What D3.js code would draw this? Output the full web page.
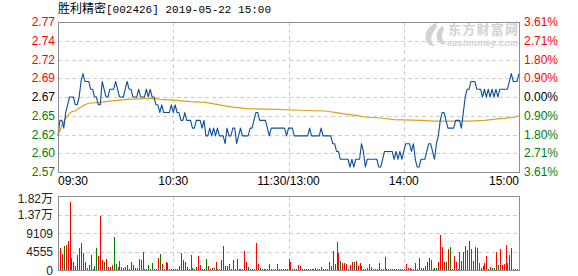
<!DOCTYPE html>
<html><head><meta charset="utf-8">
<script src="https://cdn.jsdelivr.net/npm/d3@7/dist/d3.min.js"></script>
<style>body{margin:0;background:#fff}svg{display:block}</style>
</head><body><svg id="c" width="578" height="276"></svg>
<script>
// ---------------- data ----------------
const stockName = "胜利精密";
const stockCode = "[002426]";
const dateTime = "2019-05-22 15:00";
const preClose = 2.67;
const maxPct = 0.0361;
const priceTickLabels = ["2.77","2.74","2.72","2.69","2.67","2.65","2.62","2.60","2.57"];
const pctTickLabels = ["3.61%","2.71%","1.80%","0.90%","0.00%","0.90%","1.80%","2.71%","3.61%"];
const timeLabels = ["09:30","10:30","11:30/13:00","14:00","15:00"];
const timeLabelMinutes = [0,60,120,180,240];
const volMax = 18218;
const volTickLabels = ["1.82万","1.37万","9109","4555","0"];

// minute prices (index = minute from 09:30, 241 points)
const prices = [
2.62,2.64,2.64,2.63,2.65,2.66,2.67,2.67,2.67,2.66,2.66,2.67,2.69,2.70,2.69,2.69,2.69,2.68,2.68,2.67,
2.67,2.66,2.66,2.69,2.68,2.67,2.67,2.68,2.68,2.68,2.69,2.68,2.67,2.67,2.67,2.68,2.69,2.68,2.68,2.67,
2.67,2.67,2.68,2.67,2.67,2.67,2.68,2.67,2.68,2.67,2.67,2.66,2.66,2.65,2.66,2.65,2.65,2.65,2.65,2.66,
2.65,2.66,2.65,2.65,2.64,2.64,2.65,2.64,2.64,2.64,2.63,2.63,2.64,2.64,2.64,2.63,2.64,2.62,2.62,2.63,
2.62,2.63,2.62,2.63,2.62,2.62,2.62,2.61,2.63,2.62,2.62,2.63,2.63,2.61,2.62,2.63,2.62,2.62,2.62,2.62,
2.63,2.63,2.64,2.65,2.65,2.64,2.64,2.64,2.64,2.63,2.62,2.63,2.63,2.63,2.63,2.63,2.63,2.63,2.63,2.62,
2.63,2.63,2.63,2.62,2.62,2.62,2.62,2.62,2.62,2.62,2.62,2.63,2.62,2.62,2.62,2.62,2.62,2.63,2.62,2.62,
2.62,2.62,2.62,2.61,2.61,2.60,2.60,2.59,2.59,2.59,2.59,2.59,2.58,2.59,2.58,2.59,2.59,2.59,2.61,2.60,
2.58,2.59,2.59,2.59,2.59,2.59,2.59,2.58,2.58,2.59,2.60,2.60,2.60,2.60,2.60,2.59,2.60,2.59,2.60,2.59,
2.60,2.61,2.61,2.61,2.60,2.61,2.59,2.58,2.58,2.59,2.59,2.59,2.60,2.61,2.61,2.60,2.59,2.61,2.62,2.64,
2.65,2.65,2.64,2.63,2.63,2.63,2.63,2.64,2.64,2.64,2.63,2.65,2.67,2.68,2.68,2.69,2.69,2.69,2.68,2.68,
2.68,2.67,2.68,2.67,2.68,2.67,2.68,2.67,2.68,2.67,2.68,2.68,2.68,2.68,2.68,2.69,2.70,2.69,2.69,2.69,
2.70];

// average price line, read at key minutes
const avgMinutes = [0,1,2,3,4,5,6,7,9,11,12,14,16,22,28,36,45,51,53,60,69,77,86,91,98,114,125,139,145,150,156,161,168,175,189,196,213,222,229,238,240];
const avgValues  = [2.620,2.627,2.634,2.638,2.643,2.646,2.649,2.651,2.652,2.656,2.657,2.660,2.662,2.663,2.665,2.667,2.668,2.668,2.667,2.666,2.664,2.663,2.659,2.657,2.655,2.654,2.653,2.652,2.650,2.648,2.646,2.644,2.643,2.641,2.640,2.639,2.639,2.640,2.642,2.644,2.646];

// minute volumes (shares)
const volumes = [
4800,5580,4020,6070,6240,7220,16900,2950,1970,1150,3770,5580,6730,4180,1970,660,1310,3770,330,1070,
5580,3530,13380,2540,2130,2790,820,820,1310,8290,1640,820,2300,900,660,820,1310,330,1970,1310,
500,660,2790,2540,4430,330,330,1310,330,1720,330,330,2950,3940,1560,330,1970,1720,330,330,
330,330,330,1070,4180,2540,1970,900,400,3770,660,330,900,3530,1310,330,330,2790,1150,330,
660,660,1970,330,330,2540,5990,1150,1150,1640,330,2540,330,2790,330,330,330,4760,1970,900,
330,330,400,6650,1480,500,330,330,330,300,1480,330,330,330,1480,330,330,330,330,330,
2790,1970,330,330,330,1310,1070,330,330,330,330,330,330,330,500,330,330,820,330,330,
330,1970,1070,4760,1560,6970,4180,2300,1800,1800,1560,330,1310,1970,1970,2300,1070,1800,1070,330,
330,660,1560,820,330,330,330,1800,330,330,3280,330,330,330,330,330,330,330,330,330,
330,1560,500,660,330,330,1800,330,3040,660,500,1070,1970,3040,2540,330,600,600,2050,8700,
5740,2050,2050,5250,5740,330,3530,2050,330,4510,2300,4510,5990,5000,7220,5250,2300,5740,5500,1800,
660,1070,1800,3530,330,820,600,600,4510,1310,5250,1310,1560,6240,1800,3770,5500,330,200,200,
7960];

// minutes whose volume bar is a down (green) bar
const downMinutes = [3,8,13,17,19,20,24,29,30,37,38,41,43,47,49,51,53,55,59,61,64,66,70,71,76,77,79,81,85,87,92,93,99,105,128,131,138,143,145,147,154,159,160,165,167,172,175,177,186,188,196,197,202,204,210,218,221,226,227,229,237];

// ---------------- drawing ----------------
const svg = d3.select("#c");
const L = 58, R = 519, PT = 22, PB = 172, VT = 196.3, VB = 270.3;
const RED = "#ff0000", GREEN = "#008000", DARK = "#000000";
const FONT = "'Liberation Sans', Arial, sans-serif";

const x = d3.scaleLinear().domain([0, 240]).range([L, R]);
const yP = d3.scaleLinear().domain([preClose*(1-maxPct), preClose*(1+maxPct)]).range([PB, PT]);
const yV = d3.scaleLinear().domain([0, volMax]).range([VB, VT]);

const nP = priceTickLabels.length - 1;
const priceTickVals = priceTickLabels.map((d,i) => preClose*(1 + maxPct*(nP/2 - i)/(nP/2)));
const volTickVals = volTickLabels.map((d,i) => volMax*(volTickLabels.length-1-i)/(volTickLabels.length-1));

// grid
const grid = svg.append("g").attr("stroke", "#cfcfcf").attr("stroke-dasharray", "4,3").attr("shape-rendering","crispEdges");
priceTickVals.slice(1, -1).forEach(v => {
  const yy = Math.round(yP(v)) + 0.5;
  grid.append("line").attr("x1", L).attr("x2", R).attr("y1", yy).attr("y2", yy);
});
volTickVals.slice(1, -1).forEach(v => {
  const yy = Math.round(yV(v)) + 0.5;
  grid.append("line").attr("x1", L).attr("x2", R).attr("y1", yy).attr("y2", yy);
});
timeLabelMinutes.slice(1, -1).forEach(m => {
  const xx = Math.round(x(m)) + 0.5;
  grid.append("line").attr("x1", xx).attr("x2", xx).attr("y1", PT).attr("y2", PB);
  grid.append("line").attr("x1", xx).attr("x2", xx).attr("y1", VT).attr("y2", VB);
});

// watermark
const wm = svg.append("g").attr("fill", "#d2d2d2");
wm.append("path").attr("d", "M436,23 C428,26 424,33 426,40 C427,44 431,46 435,46 C431,43 430,38 433,33 C435,29 439,26 436,23 Z");
wm.append("path").attr("d", "M442,26 C437,30 435,36 438,41 C440,44 443,45 446,44 C442,41 441,36 443,32 C444,30 445,28 442,26 Z");
wm.append("text").attr("x", 448).attr("y", 34).attr("font-family", "'Noto Sans CJK SC', sans-serif").attr("font-weight","bold").attr("font-size", 13).attr("textLength", 70).text("东方财富网");
wm.append("text").attr("x", 447).attr("y", 46).attr("font-family", FONT).attr("font-weight","bold").attr("font-style","italic").attr("font-size", 9).attr("textLength", 71).text("eastmoney.com");

// volume bars
const downSet = new Set(downMinutes);
svg.append("g").attr("shape-rendering","crispEdges").selectAll("rect").data(volumes).join("rect")
  .attr("x", (d,i) => Math.round(x(i)))
  .attr("width", 1)
  .attr("y", d => yV(d))
  .attr("height", d => VB - yV(d))
  .attr("fill", (d,i) => downSet.has(i) ? GREEN : RED);

// average line
svg.append("path").datum(avgMinutes.map((m,i) => [m, avgValues[i]]))
  .attr("fill", "none").attr("stroke", "#dca21c").attr("stroke-width", 1.2)
  .attr("d", d3.line().x(d => x(d[0])).y(d => yP(d[1])));

// price line
svg.append("path").datum(prices)
  .attr("fill", "none").attr("stroke", "#0b4f9e").attr("stroke-width", 1.1).attr("stroke-linejoin","round")
  .attr("d", d3.line().x((d,i) => x(i)).y(d => yP(d)));

// frames
svg.append("rect").attr("x", L + 0.5).attr("y", PT + 0.5).attr("width", R - L).attr("height", PB - PT)
  .attr("fill", "none").attr("stroke", "#8e8e8e").attr("shape-rendering","crispEdges");
svg.append("rect").attr("x", L + 0.5).attr("y", Math.round(VT) + 0.5).attr("width", R - L).attr("height", Math.round(VB) - Math.round(VT))
  .attr("fill", "none").attr("stroke", "#8e8e8e").attr("shape-rendering","crispEdges");

// price labels
const colorFor = i => i < nP/2 ? RED : (i > nP/2 ? GREEN : DARK);
svg.append("g").selectAll("text").data(priceTickLabels).join("text")
  .attr("x", 55).attr("y", (d,i) => yP(priceTickVals[i])).attr("dy", "0.35em")
  .attr("text-anchor", "end").attr("font-family", FONT).attr("font-size", 12)
  .attr("fill", (d,i) => colorFor(i)).text(d => d);
svg.append("g").selectAll("text").data(pctTickLabels).join("text")
  .attr("x", 524).attr("y", (d,i) => yP(priceTickVals[i])).attr("dy", "0.35em")
  .attr("text-anchor", "start").attr("font-family", FONT).attr("font-size", 12)
  .attr("fill", (d,i) => colorFor(i)).text(d => d);

// volume labels
svg.append("g").selectAll("text").data(volTickLabels).join("text")
  .attr("x", 53).attr("y", (d,i) => yV(volTickVals[i]) + (i === 0 ? 2 : 0)).attr("dy", "0.35em")
  .attr("text-anchor", "end").attr("font-family", "'Liberation Sans','Noto Sans CJK SC',sans-serif").attr("font-size", 12)
  .attr("fill", "#222").text(d => d);

// time labels
svg.append("g").selectAll("text").data(timeLabels).join("text")
  .attr("x", (d,i) => x(timeLabelMinutes[i]))
  .attr("y", 185)
  .attr("text-anchor", (d,i) => i === 0 ? "start" : (i === timeLabels.length-1 ? "end" : "middle"))
  .attr("font-family", FONT).attr("font-size", 12).attr("fill", "#000").text(d => d);

// title
const t = svg.append("text").attr("x", L).attr("y", 13).attr("font-size", 12).attr("fill", "#000");
t.append("tspan").attr("font-family", "'Noto Sans CJK SC', sans-serif").text(stockName);
t.append("tspan").attr("font-family", "'Liberation Mono', monospace").attr("font-size", 11).text(stockCode + " " + dateTime);
</script>
</body></html>
